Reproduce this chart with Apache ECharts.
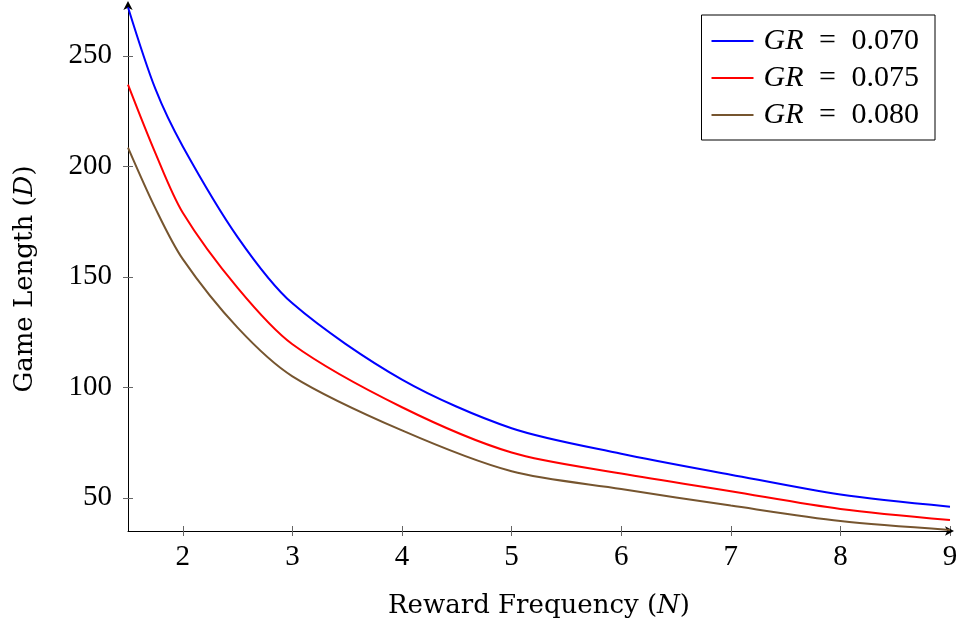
<!DOCTYPE html>
<html><head><meta charset="utf-8">
<script src="https://cdn.jsdelivr.net/npm/echarts@6/dist/echarts.min.js"></script>
<style>html,body{margin:0;padding:0;background:#fff}#c{width:959px;height:625px}</style>
</head><body><div id="c"></div>
<script>
const xs = [1.5, 1.75, 2, 2.5, 3, 4, 5, 6, 7, 8, 9];
const gr070 = [272, 235, 209, 168, 138, 103.5, 81.5, 70, 60.5, 51.5, 46];
const gr075 = [237, 206, 179, 145, 119.5, 91, 70.5, 61, 53, 45, 40];
const gr080 = [208.5, 181, 158, 127, 105, 80.5, 62, 54, 46.5, 39.5, 35.5];
const names = ['GR = 0.070', 'GR = 0.075', 'GR = 0.080'];
const xTicks = [2, 3, 4, 5, 6, 7, 8, 9];
const yTicks = [50, 100, 150, 200, 250];
const colors = ['#0000ff', '#ff0000', '#76552f'];
const F = '"Liberation Serif", "DejaVu Serif", serif';
const FT = '"DejaVu Serif", serif';

const chart = echarts.init(document.getElementById('c'));
const grid = {left: 128, right: 9, top: 5, bottom: 94, containLabel: false, outerBoundsMode: 'none'};
function mk(vals){ return xs.map((x,i)=>[x, vals[i]]); }
const series = [gr070, gr075, gr080].map((v,i)=>({
  name: names[i], type: 'line', data: mk(v), smooth: 0.3, symbol: 'none', showSymbol: false,
  lineStyle: {color: colors[i], width: 2}, itemStyle: {color: colors[i]},
  xAxisIndex: 0, yAxisIndex: 0
}));
chart.setOption({
  animation: false,
  grid: [grid, Object.assign({}, grid)],
  legend: {
    right: 24, top: 15, orient: 'vertical',
    borderColor: '#000', borderWidth: 1, backgroundColor: '#fff',
    padding: [11, 16, 10, 10], itemGap: 7, itemWidth: 42, itemHeight: 2,
    icon: 'rect',
    data: names,
    formatter: n => '{i|GR}{e|=}' + n.split('= ')[1],
    textStyle: {fontFamily: F, fontSize: 30, color: '#000', padding: [0, 0, 0, 5],
      rich: {
        i: {fontFamily: F, fontStyle: 'italic', fontSize: 30, color: '#000'},
        e: {fontFamily: F, fontSize: 30, color: '#000', width: 48, align: 'center'}
      }}
  },
  xAxis: [{
    type: 'value', gridIndex: 0, min: 1.5, max: 9,
    axisLabel: {customValues: xTicks, fontFamily: F, fontSize: 29, color: '#000', margin: 12},
    axisTick: {customValues: xTicks, length: 5, lineStyle: {color: '#666'}},
    splitLine: {show: false},
    axisLine: {lineStyle: {color: '#000', width: 1}, symbol: ['none', 'arrow'], symbolSize: [7, 9], symbolOffset: [0, 4]},
    name: 'Reward Frequency ({i|N})', nameLocation: 'middle', nameGap: 62,
    nameTextStyle: {fontFamily: FT, fontSize: 26, color: '#000',
      rich: {i: {fontFamily: FT, fontStyle: 'italic', fontSize: 26, color: '#000'}}}
  }, {
    type: 'value', gridIndex: 1, min: 1.5, max: 9, position: 'bottom',
    axisLabel: {show: false, customValues: xTicks},
    axisTick: {inside: true, customValues: xTicks, length: 5, lineStyle: {color: '#666'}},
    axisLine: {show: false}, splitLine: {show: false}
  }],
  yAxis: [{
    type: 'value', gridIndex: 0, min: 35, max: 273,
    axisLabel: {customValues: yTicks, fontFamily: F, fontSize: 29, color: '#000', margin: 16},
    axisTick: {customValues: yTicks, length: 5, lineStyle: {color: '#666'}},
    splitLine: {show: false},
    axisLine: {show: true, lineStyle: {color: '#000', width: 1}, symbol: ['none', 'arrow'], symbolSize: [7, 9], symbolOffset: [0, 4]},
    name: 'Game Length ({i|D})', nameLocation: 'middle', nameGap: 90,
    nameTextStyle: {fontFamily: FT, fontSize: 26, color: '#000', padding: [0, 0, 0, -22],
      rich: {i: {fontFamily: FT, fontStyle: 'italic', fontSize: 26, color: '#000'}}}
  }, {
    type: 'value', gridIndex: 1, min: 35, max: 273, position: 'left',
    axisLabel: {show: false, customValues: yTicks},
    axisTick: {show: true, inside: true, customValues: yTicks, length: 5, lineStyle: {color: '#666'}},
    axisLine: {show: false}, splitLine: {show: false}
  }],
  series: series
});
</script></body></html>
